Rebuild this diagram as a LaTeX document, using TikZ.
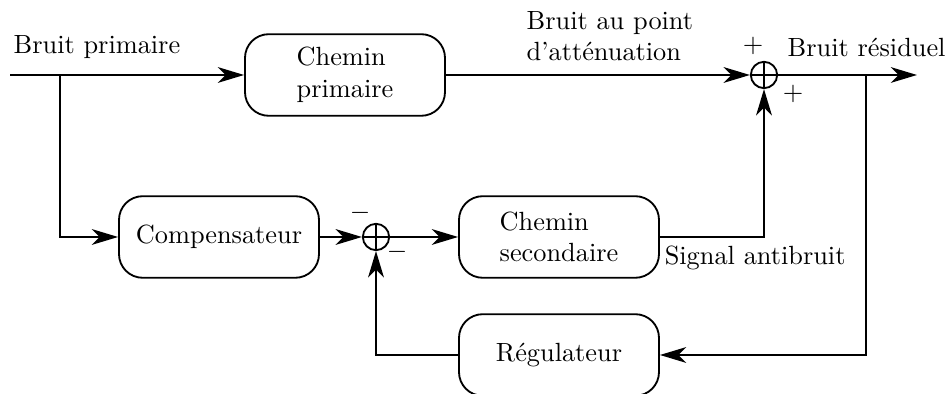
\documentclass[tikz,border=0pt]{standalone}
\usepackage{fontspec}
\usepackage{tikz}
\usetikzlibrary{arrows.meta,positioning}

\begin{document}
\begin{tikzpicture}[x=0.38pt,y=0.38pt,>={Stealth[length=10pt,width=6pt,inset=3pt]},line width=0.7pt,
    bloc/.style={draw,rounded corners=9pt,minimum width=76pt,minimum height=31pt,align=left},
    sommateur/.style={draw,circle,minimum size=10pt,inner sep=0pt,
      path picture={\draw (path picture bounding box.north)--(path picture bounding box.south)
        (path picture bounding box.west)--(path picture bounding box.east);}}]
      \useasboundingbox (0,0) rectangle (949,394);
      \coordinate (entree) at (10,319);
      \coordinate (derivA) at (60,319);
      \node[bloc] (chprim) at (345,319) {Chemin\\primaire};
      \node[bloc] (comp) at (219,157) {Compensateur};
      \node[sommateur] (som2) at (376,157) {};
      \node[bloc] (chsec) at (559,157) {Chemin\\secondaire};
      \node[bloc] (regul) at (559,39) {Régulateur};
      \node[sommateur] (som1) at (764,319) {};
      \coordinate (derivB) at (866,319);
      \coordinate (sortie) at (917,319);
      % liaisons
      \draw[->] (entree) -- (chprim);
      \draw[->] (derivA) |- (comp);
      \draw[->] (chprim) -- (som1);
      \draw[->] (som1) -- (sortie);
      \draw[->] (comp) -- (som2);
      \draw[->] (som2) -- (chsec);
      \draw[->] (chsec) -| (som1);
      \draw[->] (derivB) |- (regul);
      \draw[->] (regul) -| (som2);
      % textes
      \node[anchor=west] (lbprim) at (4,347) {Bruit primaire};
      \node[anchor=west,align=left] (lbatt) at (517,358) {Bruit au point\\d'atténuation};
      \node[anchor=west] (lbres) at (778,347) {Bruit résiduel};
      \node[below right,inner sep=1.5pt,yshift=-1.5pt] (lbanti) at (chsec.east) {Signal antibruit};
      \node (plusA) at (753,348) {$+$};
      \node (plusB) at (793,300) {$+$};
      \node (moinsA) at (360,181) {$-$};
      \node (moinsB) at (397,142) {$-$};
    \end{tikzpicture}
\end{document}
